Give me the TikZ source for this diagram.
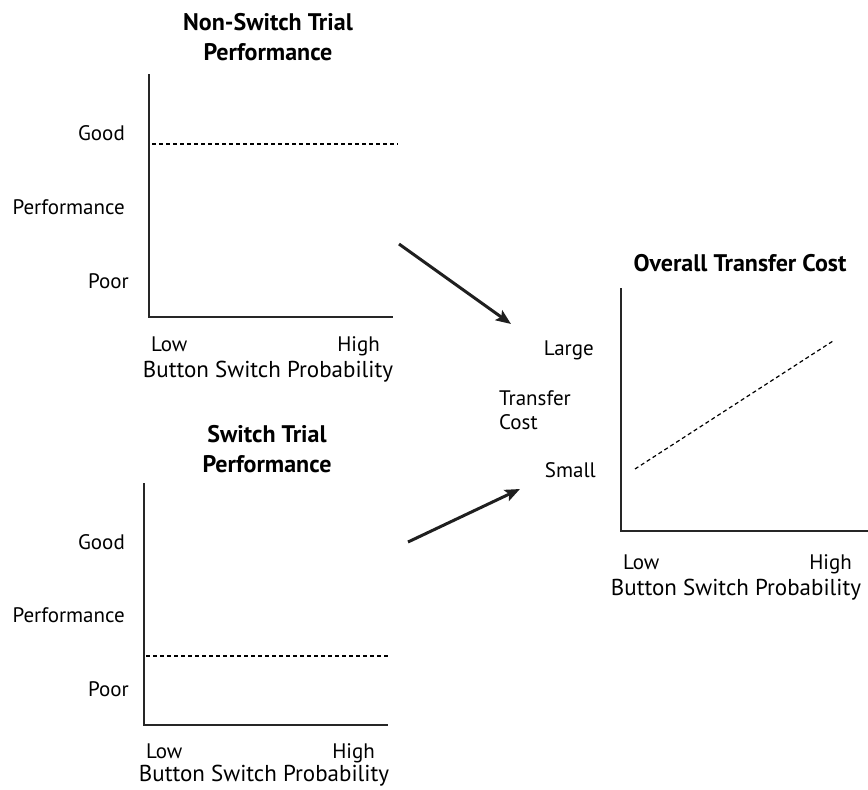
\documentclass[tikz,border=0pt]{standalone}
\usepackage{fontspec}
\setmainfont{PT Sans}
\usetikzlibrary{arrows.meta}
\tikzset{
  lbl/.style={inner sep=0pt, font=\fontsize{21}{24}\selectfont},
  xlbl/.style={inner sep=0pt, font=\fontsize{23}{26}\selectfont},
  ttl/.style={inner sep=0pt, font=\fontsize{24}{30}\selectfont\bfseries, align=center},
  axis/.style={line width=1.1pt, draw=black!85},
  level/.style={line width=1.2pt, dash pattern=on 4pt off 3pt},
  flow/.style={line width=3pt, draw=black!88, -{Stealth[length=15pt,width=12pt,inset=3pt]}},
}
\begin{document}
\begin{tikzpicture}[x=1pt,y=-1pt]
\useasboundingbox (0,0) rectangle (868,790);
% ---------- top-left chart ----------
\node[ttl] (t1) at (268,37) {Non-Switch Trial\\Performance};
\coordinate (a1top) at (149,74);
\coordinate (a1org) at (149,317);
\coordinate (a1end) at (393,317);
\draw[axis] (a1top) -- (a1org) -- (a1end);
\coordinate (d1s) at (152,144);
\coordinate (d1e) at (398,144);
\draw[level] (d1s) -- (d1e);
\node[lbl, anchor=base east] (g1) at (125,140) {Good};
\node[lbl, anchor=base east] (p1) at (125,214) {Performance};
\node[lbl, anchor=base east] (r1) at (129,288) {Poor};
\node[lbl, anchor=base west] (lo1) at (151,351) {Low};
\node[lbl, anchor=base east] (hi1) at (380,351) {High};
\node[xlbl] (x1) at (268,372) {Button Switch Probability};
% ---------- bottom-left chart ----------
\node[ttl] (t2) at (267,449) {Switch Trial\\Performance};
\coordinate (a2top) at (144,483);
\coordinate (a2org) at (144,725);
\coordinate (a2end) at (388,725);
\draw[axis] (a2top) -- (a2org) -- (a2end);
\coordinate (d2s) at (146,656);
\coordinate (d2e) at (390,656);
\draw[level] (d2s) -- (d2e);
\node[lbl, anchor=base east] (g2) at (125,549) {Good};
\node[lbl, anchor=base east] (p2) at (125,622) {Performance};
\node[lbl, anchor=base east] (r2) at (129,696) {Poor};
\node[lbl, anchor=base west] (lo2) at (146,758) {Low};
\node[lbl, anchor=base east] (hi2) at (375,758) {High};
\node[xlbl] (x2) at (264,776) {Button Switch Probability};
% ---------- right chart ----------
\node[ttl] (t3) at (740,263) {Overall Transfer Cost};
\coordinate (a3top) at (621,288);
\coordinate (a3org) at (621,531);
\coordinate (a3end) at (868,531);
\draw[axis] (a3top) -- (a3org) -- (a3end);
\coordinate (d3s) at (635,469);
\coordinate (d3e) at (833,341);
\draw[level] (d3s) -- (d3e);
\node[lbl, anchor=base east] (lg3) at (594,355) {Large};
\node[lbl, anchor=west, align=left] (tc3) at (499,410) {Transfer\\Cost};
\node[lbl, anchor=base east] (sm3) at (596,477) {Small};
\node[lbl, anchor=base west] (lo3) at (623,569) {Low};
\node[lbl, anchor=base east] (hi3) at (852,569) {High};
\node[xlbl] (x3) at (736,590) {Button Switch Probability};
% ---------- arrows ----------
\coordinate (f1s) at (399,244);
\coordinate (f1e) at (511,324);
\coordinate (f2s) at (408,542);
\coordinate (f2e) at (520,489);
\draw[flow] (f1s) -- (f1e);
\draw[flow] (f2s) -- (f2e);
\end{tikzpicture}
\end{document}
